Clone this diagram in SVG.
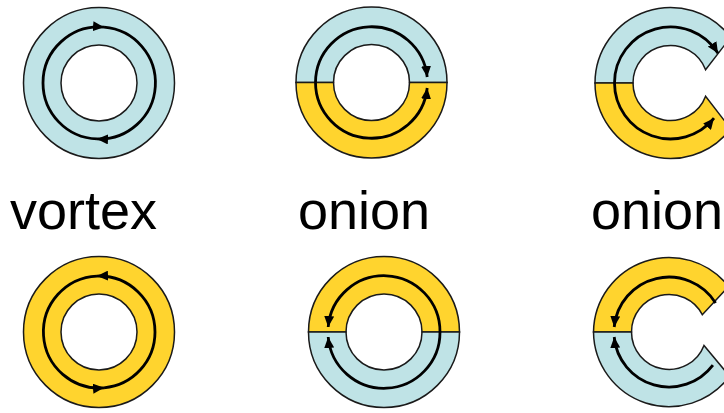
<svg xmlns="http://www.w3.org/2000/svg" width="724" height="413" viewBox="0 0 724 413">
<style>
.blue{fill:#bfe3e6;stroke:#1a1a1a;stroke-width:1.5;}
.yellow{fill:#ffd42e;stroke:#1a1a1a;stroke-width:1.5;}
.arr{fill:none;stroke:#000;stroke-width:2.8;}
.lbl{font-family:"Liberation Sans",Arial,sans-serif;font-size:54px;fill:#000;}
</style>
<defs>
<marker id="ah" markerUnits="userSpaceOnUse" markerWidth="12" markerHeight="10" refX="11" refY="5" orient="auto">
<path d="M0,0 L11,5 L0,10 z" fill="#000"/>
</marker>
</defs>
<rect width="724" height="413" fill="#fff"/>

<g id="vortex-top">
<path class="blue" fill-rule="evenodd" d="M23.5,83 A75.5,75.5 0 1 1 174.5,83 A75.5,75.5 0 1 1 23.5,83 Z M61,83 A38,38 0 1 0 137,83 A38,38 0 1 0 61,83 Z"/>
<path class="arr" marker-end="url(#ah)" d="M43,83 A56,56 0 0 1 104,27.2"/>
<path class="arr" marker-end="url(#ah)" d="M104,27.2 A56,56 0 0 1 97,138.96"/>
<path class="arr" d="M97,138.96 A56,56 0 0 1 43,83"/>
</g>

<g id="onion-top">
<path class="blue" d="M296,82.5 A75.5,75.5 0 0 1 447,82.5 L409.5,82.5 A38,38 0 0 0 333.5,82.5 Z"/>
<path class="yellow" d="M296,82.5 A75.5,75.5 0 0 0 447,82.5 L409.5,82.5 A38,38 0 0 1 333.5,82.5 Z"/>
<path class="arr" marker-end="url(#ah)" d="M315.5,82.5 A56,56 0 0 1 427.2,77"/>
<path class="arr" marker-end="url(#ah)" d="M315.5,82.5 A56,56 0 0 0 427.2,88"/>
</g>

<g id="onion-c-top">
<path class="blue" d="M595,83 A75.5,75.5 0 0 1 730.6,37.3 L705.6,69.8 A37.5,37.5 0 0 0 633,83 Z"/>
<path class="yellow" d="M595,83 A75.5,75.5 0 0 0 730.6,128.7 L705.6,96.2 A37.5,37.5 0 0 1 633,83 Z"/>
<path class="arr" marker-end="url(#ah)" d="M614.5,83 A56,56 0 0 1 718,53.3"/>
<path class="arr" marker-end="url(#ah)" d="M614.5,83 A56,56 0 0 0 714,118.2"/>
</g>

<g id="labels">
<text class="lbl" x="10" y="229">vortex</text>
<text class="lbl" x="298" y="229">onion</text>
<text class="lbl" x="591" y="229">onion</text>
</g>

<g id="vortex-bottom">
<path class="yellow" fill-rule="evenodd" d="M23.5,332 A75.5,75.5 0 1 1 174.5,332 A75.5,75.5 0 1 1 23.5,332 Z M61,332 A38,38 0 1 0 137,332 A38,38 0 1 0 61,332 Z"/>
<path class="arr" marker-end="url(#ah)" d="M155,332 A56,56 0 0 0 97,276.04"/>
<path class="arr" marker-end="url(#ah)" d="M97,276.04 A56,56 0 1 0 104,387.8"/>
<path class="arr" d="M104,387.8 A56,56 0 0 0 155,332"/>
</g>

<g id="onion-bottom">
<path class="yellow" d="M308.5,332 A75.5,75.5 0 0 1 459.5,332 L422,332 A38,38 0 0 0 346,332 Z"/>
<path class="blue" d="M308.5,332 A75.5,75.5 0 0 0 459.5,332 L422,332 A38,38 0 0 1 346,332 Z"/>
<path class="arr" marker-end="url(#ah)" d="M440,332 A56,56 0 0 0 328.2,327"/>
<path class="arr" marker-end="url(#ah)" d="M440,332 A56,56 0 0 1 328.2,337"/>
</g>

<g id="onion-c-bottom">
<path class="yellow" d="M593.5,332 A75.5,75.5 0 0 1 728.5,286.5 L702.3,314.7 A37.5,37.5 0 0 0 631.5,332 Z"/>
<path class="blue" d="M593.5,332 A75.5,75.5 0 0 0 729.6,376.2 L704,345.4 A37.5,37.5 0 0 1 631.5,332 Z"/>
<path class="arr" marker-end="url(#ah)" d="M715.6,302.9 A55,55 0 0 0 614.2,327"/>
<path class="arr" marker-end="url(#ah)" d="M712.9,365.1 A55,55 0 0 1 614.2,337"/>
</g>
</svg>
